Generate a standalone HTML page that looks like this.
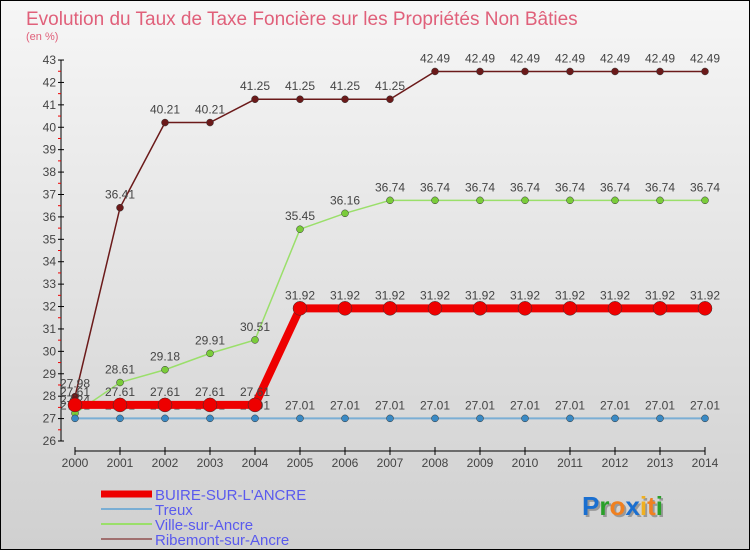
<!DOCTYPE html>
<html><head><meta charset="utf-8"><style>
body{margin:0;width:750px;height:550px;overflow:hidden;font-family:"Liberation Sans",sans-serif}
#wrap{position:relative;width:748px;height:548px;border:1px solid #000;background:linear-gradient(#f6f6f6,#d0d0d0)}
</style></head><body>
<div id="wrap">
<svg width="748" height="548" xmlns="http://www.w3.org/2000/svg" id="svg">
<text x="25" y="24" font-size="19" fill="#e0607a">Evolution du Taux de Taxe Foncière sur les Propriétés Non Bâties</text>
<text x="25" y="39" font-size="11" fill="#e0607a">(en %)</text>
<g id="axes"></g><g id="series"></g><g id="legend"></g>
<text x="583" y="516" font-size="26" font-weight="bold" fill="#999"><tspan>Proxiti</tspan></text>
<text x="581" y="514" font-size="26" font-weight="bold"><tspan fill="#1a6fd0">P</tspan><tspan fill="#2aa02a">r</tspan><tspan fill="#f08020">o</tspan><tspan fill="#1a6fd0">x</tspan><tspan fill="#f0b020">i</tspan><tspan fill="#f08020">t</tspan><tspan fill="#2aa02a">i</tspan></text>
</svg></div>
<script>
const years=[2000,2001,2002,2003,2004,2005,2006,2007,2008,2009,2010,2011,2012,2013,2014];
const buire=[27.61,27.61,27.61,27.61,27.61,31.92,31.92,31.92,31.92,31.92,31.92,31.92,31.92,31.92,31.92];
const treux=[27.01,27.01,27.01,27.01,27.01,27.01,27.01,27.01,27.01,27.01,27.01,27.01,27.01,27.01,27.01];
const ville=[27.24,28.61,29.18,29.91,30.51,35.45,36.16,36.74,36.74,36.74,36.74,36.74,36.74,36.74,36.74];
const ribemont=[27.98,36.41,40.21,40.21,41.25,41.25,41.25,41.25,42.49,42.49,42.49,42.49,42.49,42.49,42.49];
const yTicks=[26,27,28,29,30,31,32,33,34,35,36,37,38,39,40,41,42,43];
const NS="http://www.w3.org/2000/svg";
const X=i=>74+i*45, Y=v=>440-(v-26)*22.41;
function mk(t,a,p){const e=document.createElementNS(NS,t);for(const k in a)e.setAttribute(k,a[k]);p.appendChild(e);return e;}
const ax=document.getElementById('axes');
let l=mk('line',{x1:60,y1:Y(43),x2:60,y2:Y(26),stroke:'#000'},ax);


yTicks.forEach(v=>{
 let t=mk('line',{x1:57,x2:63,y1:Y(v),y2:Y(v),stroke:'#000'},ax);
 
 
 if(v<43){let m=mk('line',{x1:57,x2:60,y1:Y(v+0.5),y2:Y(v+0.5),stroke:'#e00'},ax);
 
 }
 let tx=mk('text',{x:55,y:Y(v)+4,'font-size':12,'text-anchor':'end',fill:'#444'},ax);tx.textContent=v;
 
 
});
l=mk('line',{x1:X(0),x2:X(14),y1:450,y2:450,stroke:'#000'},ax);


years.forEach((y,i)=>{
 let t=mk('line',{x1:X(i),x2:X(i),y1:446,y2:454,stroke:'#000'},ax);
 
 
 let tx=mk('text',{x:X(i),y:466,'font-size':12,'text-anchor':'middle',fill:'#444'},ax);tx.textContent=y;
 
 
});
const sg=document.getElementById('series');
const defs=[
 {d:ribemont,c:'#6b1a1a',w:1.5,r:3.5,n:'ribemont'},
 {d:ville,c:'#9adf6a',w:1.5,r:3.5,fill:'#7acc3a',n:'ville'},
 {d:treux,c:'#7aaed4',w:2,r:3.5,fill:'#3a8ac4',n:'treux'},
 {d:buire,c:'#ee0000',w:8,r:7,n:'buire'}];
defs.forEach(s=>{
 let p=mk('polyline',{points:s.d.map((v,i)=>X(i)+','+Y(v)).join(' '),fill:'none',stroke:s.c,'stroke-width':s.w},sg);
 
 
 s.d.forEach((v,i)=>{
  let c=mk('circle',{cx:X(i),cy:Y(v),r:s.r,fill:s.fill||s.c,stroke:'#333','stroke-width':0.5},sg);
  
  
  let t=mk('text',{x:X(i),y:Y(v)-9,'font-size':12,'text-anchor':'middle',fill:'#444'},sg);t.textContent=v.toFixed(2);
  
  
 });
});
const lg=document.getElementById('legend');
const leg=[['BUIRE-SUR-L\'ANCRE','#ee0000',7],['Treux','#7aaed4',2],['Ville-sur-Ancre','#9adf6a',2],['Ribemont-sur-Ancre','#a07070',2]];
leg.forEach((e,i)=>{
 let y=493+i*15;
 let ln=mk('line',{x1:100,x2:151,y1:y,y2:y,stroke:e[1],'stroke-width':e[2]},lg);
 
 
 let t=mk('text',{x:154,y:y+6,'font-size':15,fill:'#5a5aee'},lg);t.textContent=e[0];
 
 
});
</script>
</body></html>
